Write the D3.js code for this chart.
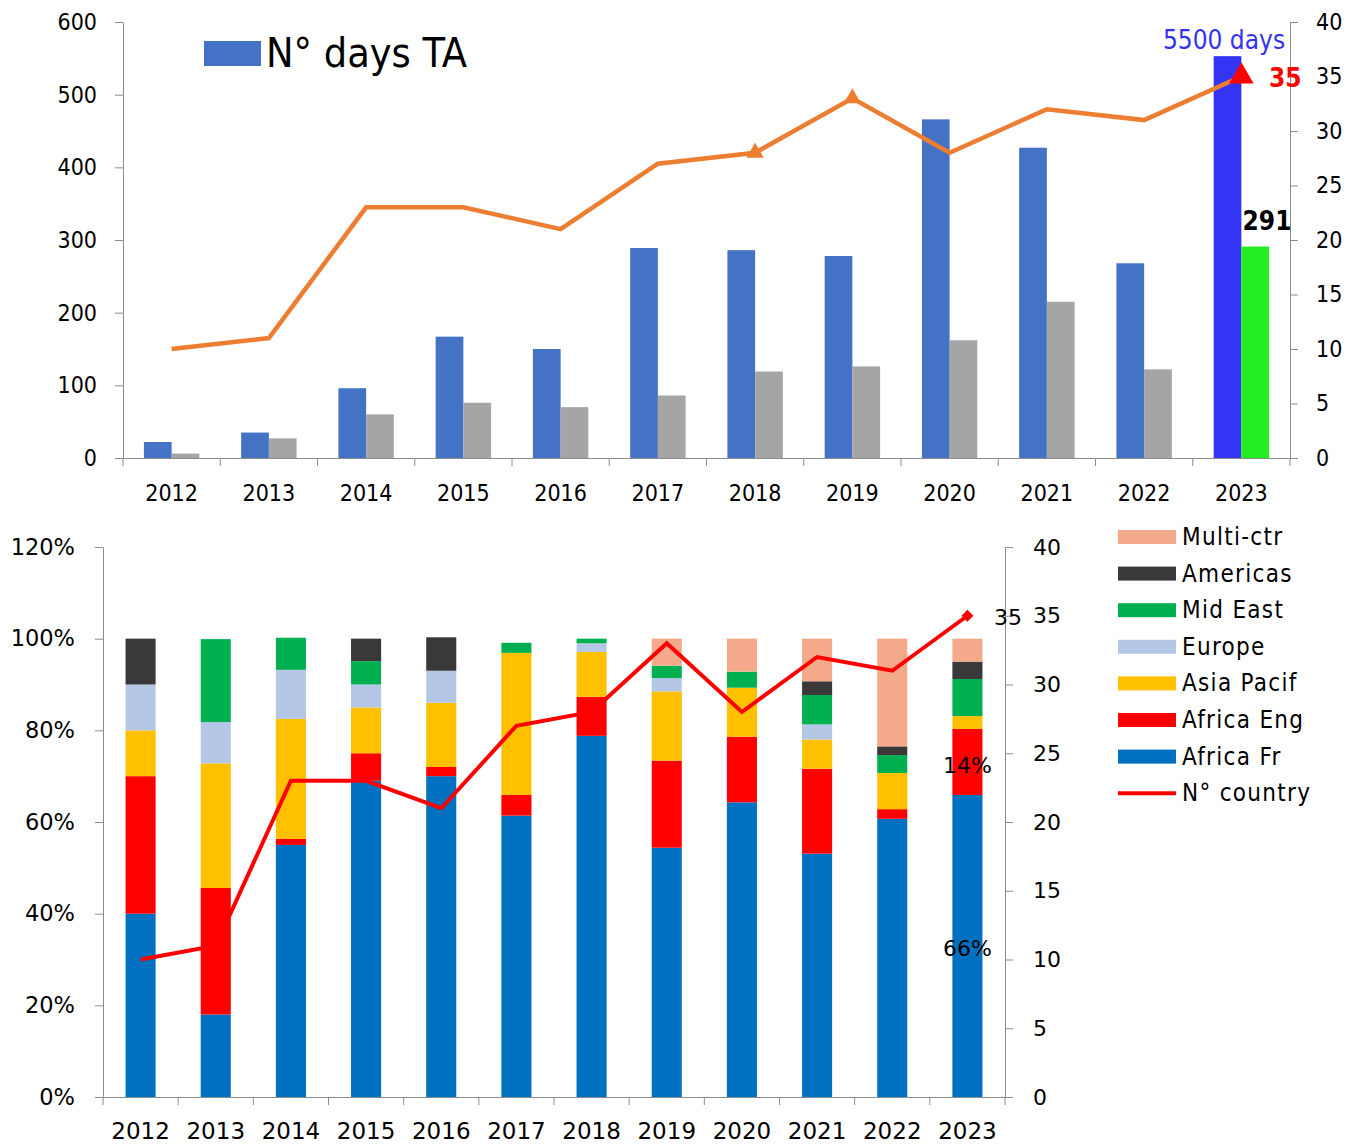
<!DOCTYPE html>
<html>
<head>
<meta charset="utf-8">
<script src="https://cdn.jsdelivr.net/npm/d3@7"></script>
<style>
  body { margin: 0; background: #fff; }
  svg text { fill: #000; }
  .top text { font-family: "Liberation Sans Narrow", "DejaVu Sans Condensed", sans-serif; }
  .bot text { font-family: "DejaVu Sans", Verdana, sans-serif; }
  .axis path, .axis line { stroke: #8c8c8c; }
</style>
</head>
<body>
<svg id="svg1" width="1361" height="1146"></svg>
<script>
const years = ["2012", "2013", "2014", "2015", "2016", "2017", "2018", "2019", "2020", "2021", "2022", "2023"];

// top chart
const daysTA = [22, 35, 96, 167, 150, 289, 286, 278, 466, 427, 268, 553];
const daysOther = [6, 27, 60, 76, 70, 86, 119, 126, 162, 215, 122, 291];
const nCountry = [10, 11, 23, 23, 21, 27, 28, 33, 28, 32, 31, 35];
const leftTicks = [0, 100, 200, 300, 400, 500, 600];
const rightTicks = [0, 5, 10, 15, 20, 25, 30, 35, 40];

// bottom chart (share %)
const regions = ["Africa Fr", "Africa Eng", "Asia Pacif", "Europe", "Mid East", "Americas", "Multi-ctr"];
const africaFr = [40, 18, 55, 69, 70, 61.4, 78.8, 54.4, 64.3, 53.1, 60.7, 65.9];
const africaEng = [30, 27.6, 1.3, 6, 2, 4.5, 8.5, 19, 14.3, 18.5, 2.1, 14.4];
const asiaPacif = [10, 27.2, 26.2, 10, 14, 31, 9.8, 15.1, 10.7, 6.4, 7.9, 2.8];
const europe = [10, 9, 10.7, 5, 7, 0, 1.9, 2.9, 0, 3.3, 0, 0];
const midEast = [0, 18.1, 7, 5.1, 0, 2.2, 1, 2.7, 3.5, 6.4, 3.9, 8.1];
const americas = [10, 0, 0, 4.9, 7.3, 0, 0, 0, 0, 3, 1.9, 3.8];
const multiCtr = [0, 0, 0, 0, 0, 0, 0, 5.9, 7.2, 9.3, 23.5, 5];
const pctTicks = [0, 20, 40, 60, 80, 100, 120];
const regionColors = ["#0070c0", "#ff0000", "#ffc000", "#b4c7e7", "#00b050", "#3a3838", "#f4a98a"];

const svg = d3.select("svg#svg1");

// ---------- TOP CHART ----------
const topChart = svg.append("g").attr("class", "top");
const tL = 123, tR = 1290, tT = 22, tB = 458;

const xTop = d3.scaleBand().domain(years).range([tL, tR]);
const yDays = d3.scaleLinear().domain([0, 600]).range([tB, tT]);
const yCtry = d3.scaleLinear().domain([0, 40]).range([tB, tT]);
const bw = xTop.bandwidth() * 0.285;

topChart.append("g").attr("class", "axis")
    .attr("transform", `translate(${tL},0)`)
    .call(d3.axisLeft(yDays).tickValues(leftTicks).tickSize(8).tickSizeOuter(0))
    .call(g => g.selectAll("text").attr("x", -26).style("font-size", "23px"));
topChart.append("g").attr("class", "axis")
    .attr("transform", `translate(${tR},0)`)
    .call(d3.axisRight(yCtry).tickValues(rightTicks).tickSize(8).tickSizeOuter(0))
    .call(g => g.selectAll("text").attr("x", 26).style("font-size", "23px"));
topChart.append("g").attr("class", "axis")
    .attr("transform", `translate(0,${tB})`)
    .call(d3.axisBottom(xTop).tickSize(0).tickSizeOuter(0))
    .call(g => g.select(".domain").attr("d", `M${tL - 8},0.5H${tR}`))
    .call(g => g.selectAll("text").attr("y", 27).style("font-size", "23px"));
topChart.append("g").selectAll("line")
    .data(years.map(d => xTop(d)).concat([tR]))
    .join("line")
    .attr("x1", d => d).attr("x2", d => d)
    .attr("y1", tB).attr("y2", tB + 8)
    .attr("stroke", "#8c8c8c");

topChart.append("g").selectAll("rect")
    .data(years)
    .join("rect")
    .attr("x", d => xTop(d) + xTop.bandwidth() / 2 - bw)
    .attr("y", (d, i) => yDays(daysTA[i]))
    .attr("width", bw)
    .attr("height", (d, i) => tB - yDays(daysTA[i]))
    .attr("fill", (d, i) => i === years.length - 1 ? "#3434f5" : "#4472c4");
topChart.append("g").selectAll("rect")
    .data(years)
    .join("rect")
    .attr("x", d => xTop(d) + xTop.bandwidth() / 2)
    .attr("y", (d, i) => yDays(daysOther[i]))
    .attr("width", bw)
    .attr("height", (d, i) => tB - yDays(daysOther[i]))
    .attr("fill", (d, i) => i === years.length - 1 ? "#22ee22" : "#a5a5a5");

const lineTop = d3.line()
    .x((d, i) => xTop(years[i]) + xTop.bandwidth() / 2)
    .y(d => yCtry(d));
topChart.append("path")
    .attr("d", lineTop(nCountry))
    .attr("fill", "none")
    .attr("stroke", "#ed7d31")
    .attr("stroke-width", 4.5);

const tri = d3.symbol().type(d3.symbolTriangle);
[6, 7].forEach(i => {
    topChart.append("path")
        .attr("d", tri.size(130)())
        .attr("transform", `translate(${xTop(years[i]) + xTop.bandwidth() / 2},${yCtry(nCountry[i])})`)
        .attr("fill", "#ed7d31");
});
topChart.append("path")
    .attr("d", tri.size(260)())
    .attr("transform", `translate(${xTop(years[11]) + xTop.bandwidth() / 2},${yCtry(nCountry[11])})`)
    .attr("fill", "#ff0000");

topChart.append("text").attr("x", 1224).attr("y", 49).attr("text-anchor", "middle")
    .style("font-size", "26px").style("fill", "#3333ee").text("5500 days");
topChart.append("text").attr("x", 1269).attr("y", 87)
    .style("font-size", "26px").style("font-weight", "bold").style("fill", "#ff0000").text(nCountry[11]);
topChart.append("text").attr("x", 1267).attr("y", 230).attr("text-anchor", "middle")
    .style("font-size", "26px").style("font-weight", "bold").text(daysOther[11]);

topChart.append("rect").attr("x", 204).attr("y", 41).attr("width", 57).attr("height", 25).attr("fill", "#4472c4");
topChart.append("text").attr("x", 266).attr("y", 67).style("font-size", "41px").text("N° days TA");

// ---------- BOTTOM CHART ----------
const bot = svg.append("g").attr("class", "bot");
const bL = 103, bR = 1005, bT = 547, bB = 1097;

const xBot = d3.scaleBand().domain(years).range([bL, bR]);
const yPct = d3.scaleLinear().domain([0, 120]).range([bB, bT]);
const yCtry2 = d3.scaleLinear().domain([0, 40]).range([bB, bT]);
const bw2 = xBot.bandwidth() * 0.4;

bot.append("g").attr("class", "axis")
    .attr("transform", `translate(${bL},0)`)
    .call(d3.axisLeft(yPct).tickValues(pctTicks).tickSize(8).tickSizeOuter(0).tickFormat(d => d + "%"))
    .call(g => g.selectAll("text").attr("x", -28).style("font-size", "22.5px"));
bot.append("g").attr("class", "axis")
    .attr("transform", `translate(${bR},0)`)
    .call(d3.axisRight(yCtry2).tickValues(rightTicks).tickSize(8).tickSizeOuter(0))
    .call(g => g.selectAll("text").attr("x", 28).style("font-size", "22px"));
bot.append("g").attr("class", "axis")
    .attr("transform", `translate(0,${bB})`)
    .call(d3.axisBottom(xBot).tickSize(0).tickSizeOuter(0))
    .call(g => g.select(".domain").attr("d", `M${bL - 8},0.5H${bR + 8}`))
    .call(g => g.selectAll("text").attr("y", 26).style("font-size", "23px"));
bot.append("g").selectAll("line")
    .data(years.map(d => xBot(d)).concat([bR]))
    .join("line")
    .attr("x1", d => d).attr("x2", d => d)
    .attr("y1", bB).attr("y2", bB + 8)
    .attr("stroke", "#8c8c8c");

const shareRows = years.map((y, i) => ({
    year: y,
    "Africa Fr": africaFr[i], "Africa Eng": africaEng[i], "Asia Pacif": asiaPacif[i],
    "Europe": europe[i], "Mid East": midEast[i], "Americas": americas[i], "Multi-ctr": multiCtr[i]
}));
const stacked = d3.stack().keys(regions)(shareRows);
const colorScale = d3.scaleOrdinal().domain(regions).range(regionColors);

bot.append("g").selectAll("g")
    .data(stacked)
    .join("g")
    .attr("fill", d => colorScale(d.key))
    .selectAll("rect")
    .data(d => d)
    .join("rect")
    .attr("x", d => xBot(d.data.year) + (xBot.bandwidth() - bw2) / 2)
    .attr("y", d => yPct(d[1]))
    .attr("width", bw2)
    .attr("height", d => yPct(d[0]) - yPct(d[1]));

const lineBot = d3.line()
    .x((d, i) => xBot(years[i]) + xBot.bandwidth() / 2)
    .y(d => yCtry2(d));
bot.append("path")
    .attr("d", lineBot(nCountry))
    .attr("fill", "none")
    .attr("stroke", "#ff0000")
    .attr("stroke-width", 4);
bot.append("path")
    .attr("d", d3.symbol().type(d3.symbolSquare).size(70)())
    .attr("transform", `translate(${xBot(years[11]) + xBot.bandwidth() / 2},${yCtry2(nCountry[11])}) rotate(45)`)
    .attr("fill", "#ff0000");

bot.append("text").attr("x", 994).attr("y", 625).style("font-size", "22px").text(nCountry[11]);
const cx23 = xBot(years[11]) + xBot.bandwidth() / 2;
bot.append("text").attr("x", cx23).attr("y", 773).attr("text-anchor", "middle")
    .style("font-size", "22px").text(Math.round(africaEng[11]) + "%");
bot.append("text").attr("x", cx23).attr("y", 956).attr("text-anchor", "middle")
    .style("font-size", "22px").text(Math.round(africaFr[11]) + "%");

// legend
const legendItems = regions.slice().reverse().concat(["N° country"]);
const legend = svg.append("g").attr("class", "top");
legendItems.forEach((name, i) => {
    const y = 537 + i * 36.6;
    if (name === "N° country") {
        legend.append("line").attr("x1", 1118).attr("x2", 1176).attr("y1", y).attr("y2", y)
            .attr("stroke", "#ff0000").attr("stroke-width", 4);
    } else {
        legend.append("rect").attr("x", 1118).attr("y", y - 7).attr("width", 58).attr("height", 14)
            .attr("fill", colorScale(name));
    }
    legend.append("text").attr("x", 1182).attr("y", y + 8)
        .style("font-size", "24px").style("letter-spacing", "1.3px").text(name);
});
</script>
</body>
</html>
